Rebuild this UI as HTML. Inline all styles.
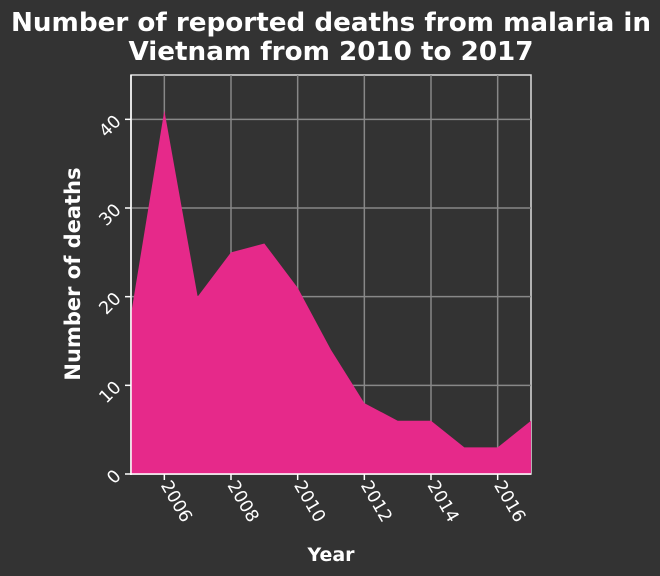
<!DOCTYPE html>
<html><head><meta charset="utf-8"><style>
html,body{margin:0;padding:0;background:#333333;}
svg{display:block;font-family:"DejaVu Sans","Liberation Sans",sans-serif;}
</style></head><body>
<svg id="chart" width="660" height="576" viewBox="0 0 660 576">
<rect x="0" y="0" width="660" height="576" fill="#333333"/>
<text x="331" y="31" text-anchor="middle" fill="#ffffff" font-size="26.2" font-weight="bold">Number of reported deaths from malaria in</text>
<text x="331" y="60" text-anchor="middle" fill="#ffffff" font-size="26.2" font-weight="bold">Vietnam from 2010 to 2017</text>
<g id="grid"></g>
<g id="marks"></g>
<g id="axes"></g>
<text x="331" y="561" text-anchor="middle" fill="#ffffff" font-size="19" font-weight="bold">Year</text>
<text transform="translate(80,274) rotate(-90)" text-anchor="middle" fill="#ffffff" font-size="21" font-weight="bold">Number of deaths</text>
</svg>
<script>
const years = [2005,2006,2007,2008,2009,2010,2011,2012,2013,2014,2015,2016,2017];
const deaths = [18,41,20,25,26,21,14,8,6,6,3,3,6];
const xTicks = [2006,2008,2010,2012,2014,2016];
const yTicks = [0,10,20,30,40];

const L=131, R=531, T=75, B=474;
const xMin=2005, xMax=2017, yMax=45;
const xs = v => L + (v-xMin)/(xMax-xMin)*(R-L);
const ys = v => B - v/yMax*(B-T);
const NS='http://www.w3.org/2000/svg';
function mk(tag, attrs, parent){const e=document.createElementNS(NS,tag);for(const k in attrs)e.setAttribute(k,attrs[k]);parent.appendChild(e);return e;}
const grid=document.getElementById('grid'), marks=document.getElementById('marks'), axes=document.getElementById('axes');

mk('rect',{x:L,y:T,width:R-L,height:B-T,fill:'none',stroke:'#dddddd','stroke-width':1.5},grid);
xTicks.forEach(t=>{
  const l=mk('line',{x1:xs(t),x2:xs(t),y1:T,y2:B,stroke:'#888888','stroke-width':1.5},grid);
  
  
});
yTicks.forEach(t=>{
  const l=mk('line',{x1:L,x2:R,y1:ys(t),y2:ys(t),stroke:'#888888','stroke-width':1.5},grid);
  
  
});

let d='M'+xs(years[0])+','+ys(0);
years.forEach((y,i)=>{d+=' L'+xs(y)+','+ys(deaths[i]);});
d+=' L'+xs(years[years.length-1])+','+ys(0)+' Z';
const area=mk('path',{d:d,fill:'#e6298a'},marks);



mk('line',{x1:L,x2:L,y1:T,y2:B+1,stroke:'#ffffff','stroke-width':1.5},axes);
mk('line',{x1:L-1,x2:R,y1:B,y2:B,stroke:'#ffffff','stroke-width':1.5},axes);
xTicks.forEach(t=>{
  mk('line',{x1:xs(t),x2:xs(t),y1:B,y2:B+6,stroke:'#ffffff','stroke-width':1.5},axes);
  const tx=mk('text',{transform:'translate('+(xs(t)-4)+','+(B+11)+') rotate(60)',fill:'#ffffff','font-size':17.5},axes);
  tx.textContent=t;
  
  
});
yTicks.forEach(t=>{
  mk('line',{x1:L-6,x2:L,y1:ys(t),y2:ys(t),stroke:'#ffffff','stroke-width':1.5},axes);
  const tx=mk('text',{transform:'translate('+(L-9)+','+(ys(t)+3)+') rotate(-45)','text-anchor':'end',fill:'#ffffff','font-size':17.5},axes);
  tx.textContent=t;
  
  
});
</script>
</body></html>
